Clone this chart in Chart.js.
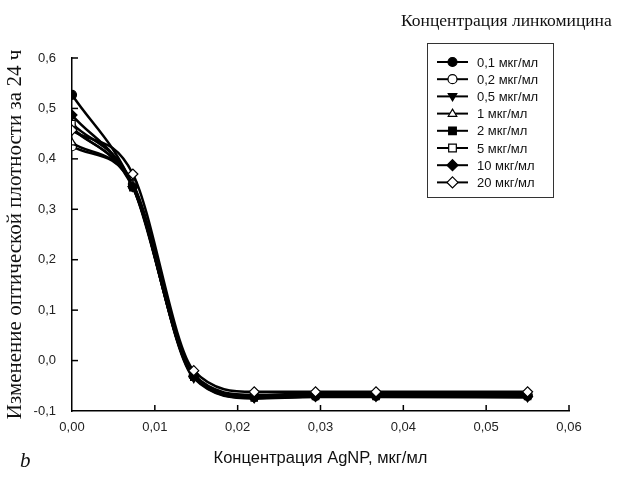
<!DOCTYPE html>
<html>
<head>
<meta charset="utf-8">
<script src="https://cdn.jsdelivr.net/npm/chart.js@4"></script>
<style>
  html, body { margin: 0; padding: 0; background: #fff; }
  #wrap { width: 621px; height: 481px; }
</style>
</head>
<body>
<div id="wrap"><canvas id="chart" width="621" height="481"></canvas></div>
<script>
// AgNP concentrations, mkg/ml
var agnp = [0, 0.00735, 0.0147, 0.022, 0.0294, 0.0367, 0.055];

// lincomycin concentrations (legend)
var seriesNames = ["0,1 мкг/мл", "0,2 мкг/мл", "0,5 мкг/мл", "1 мкг/мл",
                   "2 мкг/мл", "5 мкг/мл", "10 мкг/мл", "20 мкг/мл"];

// optical density change, one array per series
var s01 = [0.527, 0.345, -0.030, -0.072, -0.070, -0.070, -0.070];
var s02 = [0.425, 0.350, -0.030, -0.070, -0.068, -0.068, -0.068];
var s05 = [0.460, 0.345, -0.035, -0.075, -0.072, -0.072, -0.073];
var s1  = [0.432, 0.348, -0.030, -0.070, -0.068, -0.068, -0.068];
var s2  = [0.462, 0.343, -0.033, -0.074, -0.071, -0.071, -0.071];
var s5  = [0.470, 0.350, -0.028, -0.068, -0.066, -0.066, -0.067];
var s10 = [0.487, 0.345, -0.032, -0.073, -0.071, -0.070, -0.071];
var s20 = [0.457, 0.370, -0.020, -0.062, -0.062, -0.062, -0.062];
var seriesValues = [s01, s02, s05, s1, s2, s5, s10, s20];

// marker for each series: shape + filled
var markers = [
    {style: "circle", fill: true},
    {style: "circle", fill: false},
    {style: "triangle", fill: true, rot: 180},
    {style: "triangle", fill: false},
    {style: "rect", fill: true},
    {style: "rect", fill: false},
    {style: "rectRot", fill: true},
    {style: "rectRot", fill: false}
];

var xTicks = [0, 0.01, 0.02, 0.03, 0.04, 0.05, 0.06];
var yTicks = [-0.1, 0, 0.1, 0.2, 0.3, 0.4, 0.5, 0.6];

var comma = function(v, d){ return v.toFixed(d).replace(".", ","); };

var datasets = seriesValues.map(function(vals, i){
    var m = markers[i];
    return {
        label: seriesNames[i],
        data: vals.map(function(v, j){ return {x: agnp[j], y: v}; }),
        borderColor: "#000",
        borderWidth: 2.5,
        backgroundColor: m.fill ? "#000" : "#fff",
        pointBackgroundColor: m.fill ? "#000" : "#fff",
        pointBorderColor: "#000",
        pointBorderWidth: 1.2,
        pointStyle: m.style,
        pointRotation: m.rot || 0,
        pointRadius: m.style === "rectRot" ? 5 : 4.5,
        cubicInterpolationMode: "monotone",
        fill: false,
        order: seriesValues.length - i
    };
});

// simple marker drawing for the legend
function drawMarker(ctx, m, x, y, r){
    ctx.save();
    ctx.beginPath();
    if (m.style === "circle") {
        ctx.arc(x, y, r, 0, Math.PI * 2);
    } else if (m.style === "rect") {
        ctx.rect(x - r * 0.85, y - r * 0.85, r * 1.7, r * 1.7);
    } else if (m.style === "rectRot") {
        ctx.moveTo(x, y - r * 1.1); ctx.lineTo(x + r * 1.1, y);
        ctx.lineTo(x, y + r * 1.1); ctx.lineTo(x - r * 1.1, y);
        ctx.closePath();
    } else if (m.style === "triangle") {
        var d = m.rot ? -1 : 1;
        ctx.moveTo(x, y - d * r); ctx.lineTo(x + r * 0.95, y + d * r * 0.6);
        ctx.lineTo(x - r * 0.95, y + d * r * 0.6);
        ctx.closePath();
    }
    ctx.fillStyle = m.fill ? "#000" : "#fff";
    ctx.fill();
    ctx.lineWidth = 1.2;
    ctx.strokeStyle = "#000";
    ctx.stroke();
    ctx.restore();
}

// inward ticks, legend box and extra labels
var decor = {
    id: "decor",
    afterDraw: function(chart){
        var ctx = chart.ctx;
        var xs = chart.scales.x, ys = chart.scales.y;
        ctx.save();
        ctx.strokeStyle = "#000";
        ctx.lineWidth = 1.5;
        xTicks.forEach(function(t){
            var px = xs.getPixelForValue(t);
            if (t === 0) return;
            ctx.beginPath(); ctx.moveTo(px, ys.bottom); ctx.lineTo(px, ys.bottom - 6); ctx.stroke();
        });
        yTicks.forEach(function(t){
            var py = ys.getPixelForValue(t);
            if (t === -0.1) return;
            ctx.beginPath(); ctx.moveTo(xs.left, py); ctx.lineTo(xs.left + 6, py); ctx.stroke();
        });

        // legend title
        ctx.fillStyle = "#111";
        ctx.font = "17.5px 'Liberation Serif', serif";
        ctx.textAlign = "left";
        ctx.textBaseline = "middle";
        ctx.fillText("Концентрация линкомицина", 401, 21);

        // legend box
        ctx.lineWidth = 1;
        ctx.strokeStyle = "#333";
        ctx.strokeRect(427.5, 43.5, 126, 154);
        ctx.font = "13px 'Liberation Sans', Arial, sans-serif";
        seriesNames.forEach(function(name, i){
            var y = 62 + i * 17.2;
            ctx.strokeStyle = "#000";
            ctx.lineWidth = 2;
            ctx.beginPath(); ctx.moveTo(437, y); ctx.lineTo(468, y); ctx.stroke();
            drawMarker(ctx, markers[i], 452.5, y, markers[i].style === "rectRot" ? 5 : 4.5);
            ctx.fillStyle = "#111";
            ctx.fillText(name, 477, y + 1);
        });

        // panel letter
        ctx.font = "italic 21px 'Liberation Serif', serif";
        ctx.fillText("b", 20, 461);
        ctx.restore();
    }
};

var chart = new Chart(document.getElementById("chart"), {
    type: "line",
    data: {datasets: datasets},
    plugins: [decor],
    options: {
        responsive: false,
        animation: false,
        layout: {padding: {top: 58, right: 52, left: 0, bottom: 0}},
        plugins: {legend: {display: false}, tooltip: {enabled: false}},
        scales: {
            x: {
                type: "linear",
                min: 0, max: 0.06,
                afterFit: function(s){ s.height = 70; },
                afterBuildTicks: function(s){ s.ticks = xTicks.map(function(v){ return {value: v}; }); },
                grid: {display: false, drawTicks: false},
                border: {display: true, color: "#000", width: 1.5},
                ticks: {
                    padding: 9,
                    color: "#222",
                    font: {family: "'Liberation Sans', Arial, sans-serif", size: 13},
                    callback: function(v){ return comma(v, 2); }
                },
                title: {
                    display: true,
                    text: "Концентрация AgNP, мкг/мл",
                    color: "#111",
                    font: {family: "'Liberation Sans', Arial, sans-serif", size: 16.5},
                    padding: {top: 0, bottom: 13}
                }
            },
            y: {
                min: -0.1, max: 0.6,
                afterFit: function(s){ s.width = 72; },
                afterBuildTicks: function(s){ s.ticks = yTicks.map(function(v){ return {value: v}; }); },
                grid: {display: false, drawTicks: false},
                border: {display: true, color: "#000", width: 1.5},
                ticks: {
                    padding: 16,
                    color: "#222",
                    font: {family: "'Liberation Sans', Arial, sans-serif", size: 13},
                    callback: function(v){ return comma(v, 1); }
                },
                title: {
                    display: true,
                    text: "Изменение оптической плотности за 24 ч",
                    color: "#111",
                    font: {family: "'Liberation Serif', serif", size: 21},
                    padding: {top: 3, bottom: 0}
                }
            }
        }
    }
});
</script>
</body>
</html>
